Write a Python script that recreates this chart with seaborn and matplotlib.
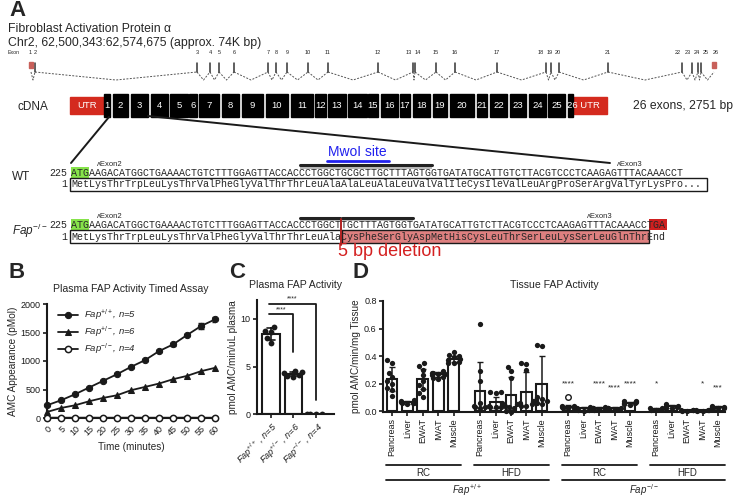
import numpy as np
import pandas as pd
import matplotlib
matplotlib.use('Agg')
import matplotlib.pyplot as plt
import seaborn as sns
from matplotlib.patches import Rectangle

sns.set_theme(style='ticks')
plt.rcParams['font.family'] = ['Liberation Sans', 'DejaVu Sans']
plt.rcParams['mathtext.fontset'] = 'custom'
plt.rcParams['mathtext.rm'] = 'Liberation Sans'
plt.rcParams['mathtext.it'] = 'Liberation Sans:italic'
plt.rcParams['mathtext.bf'] = 'Liberation Sans:bold'

# ---------------- data ----------------
exon_nums = list(range(1, 27))
exon_x = [31, 35, 197, 210, 219, 234, 268, 276, 287, 308, 328, 378, 413, 415,
          436, 455, 497, 546, 551, 559, 608, 682, 692, 698, 701, 714]
exon_label_x = [30, 35, 197, 210, 219, 234, 268, 276, 287, 308, 328, 378, 409, 418,
                436, 455, 497, 541, 550, 558, 608, 678, 688, 697, 706, 716]
cdna_left = [104, 113, 131, 151, 170, 189, 199, 222, 242, 266, 291, 315, 328, 348,
             368, 381, 400, 413, 433, 450, 477, 490, 510, 529, 548, 568]
cdna_right = [110, 128, 148, 168, 188, 197, 219, 239, 263, 288, 313, 326, 346, 367,
              378, 398, 410, 430, 447, 474, 487, 507, 526, 546, 565, 573]

wt_dna = "ATGAAGACATGGCTGAAAACTGTCTTTGGAGTTACCACCCTGGCTGCGCTTGCTTTAGTGGTGATATGCATTGTCTTACGTCCCTCAAGAGTTTACAAACCT"
wt_prot = "MetLysThrTrpLeuLysThrValPheGlyValThrThrLeuAlaAlaLeuAlaLeuValValIleCysIleValLeuArgProSerArgValTyrLysPro..."
ko_dna = "ATGAAGACATGGCTGAAAACTGTCTTTGGAGTTACCACCCTGGCTTGCTTTAGTGGTGATATGCATTGTCTTACGTCCCTCAAGAGTTTACAAACCTGA"
ko_prot = "MetLysThrTrpLeuLysThrValPheGlyValThrThrLeuAlaCysPheSerGlyAspMetHisCysLeuThrSerLeuLysSerLeuGlnThrEnd"

# Panel B
time_min = [0, 5, 10, 15, 20, 25, 30, 35, 40, 45, 50, 55, 60]
amc_wt = [223, 311, 416, 534, 651, 768, 897, 1015, 1173, 1290, 1455, 1613, 1730]
amc_wt_sd = [12, 12, 12, 14, 14, 15, 15, 18, 18, 20, 25, 45, 45]
amc_het = [106, 176, 223, 293, 352, 399, 487, 545, 604, 680, 739, 821, 880]
amc_ko = [6, 5, 5, 6, 5, 5, 6, 5, 5, 5, 6, 5, 5]
legend_b = [r'$Fap^{+/+}$, n=5', r'$Fap^{+/-}$, n=6', r'$Fap^{-/-}$, n=4']

# Panel C
c_labels = [r'$Fap^{+/+}$ , n=5', r'$Fap^{+/-}$ , n=6', r'$Fap^{-/-}$ , n=4']
c_wt = [9.15, 8.75, 8.6, 8.0, 7.5]
c_het = [4.5, 4.4, 4.3, 4.1, 4.0, 3.9]
c_ko = [0.05, 0.02, 0.0, 0.03]

# Panel D
tissues = ['Pancreas', 'Liver', 'EWAT', 'IWAT', 'Muscle']
d_means = [0.232, 0.064, 0.232, 0.266, 0.378,
           0.147, 0.063, 0.116, 0.135, 0.193,
           0.031, 0.020, 0.022, 0.020, 0.056,
           0.016, 0.035, 0.006, 0.006, 0.028]
d_sd = [0.088, 0.010, 0.075, 0.020, 0.025,
        0.210, 0.040, 0.130, 0.150, 0.205,
        0.012, 0.010, 0.008, 0.006, 0.010,
        0.006, 0.012, 0.004, 0.004, 0.006]
d_points = [
    [0.37, 0.35, 0.28, 0.25, 0.22, 0.20, 0.17, 0.15, 0.11],
    [0.08, 0.075, 0.07, 0.065, 0.06, 0.06, 0.055, 0.05],
    [0.35, 0.33, 0.30, 0.26, 0.22, 0.19, 0.16, 0.13, 0.10],
    [0.29, 0.28, 0.28, 0.27, 0.27, 0.26, 0.25, 0.24, 0.23],
    [0.43, 0.41, 0.40, 0.39, 0.38, 0.37, 0.36, 0.35, 0.35],
    [0.63, 0.29, 0.22, 0.06, 0.04, 0.03, 0.03, 0.02],
    [0.14, 0.135, 0.13, 0.06, 0.04, 0.03, 0.03, 0.03],
    [0.32, 0.29, 0.24, 0.05, 0.04, 0.03, 0.02, 0.0, -0.01],
    [0.35, 0.34, 0.30, 0.07, 0.06, 0.05, 0.04, 0.04],
    [0.48, 0.47, 0.10, 0.09, 0.08, 0.07, 0.06, 0.05],
    [0.035, 0.03, 0.03, 0.025, 0.02, 0.02, 0.035],
    [0.03, 0.025, 0.02, 0.015, 0.01, 0.005, 0.0],
    [0.03, 0.025, 0.02, 0.02, 0.015, 0.01, 0.01],
    [0.025, 0.02, 0.02, 0.015, 0.015, 0.01],
    [0.075, 0.07, 0.065, 0.06, 0.055, 0.05, 0.045],
    [0.025, 0.02, 0.015, 0.01, 0.01],
    [0.05, 0.04, 0.035, 0.03, 0.025, 0.02],
    [0.01, 0.008, 0.005, 0.003, 0.0],
    [0.01, 0.008, 0.005, 0.003, 0.0],
    [0.035, 0.03, 0.03, 0.025, 0.02, 0.02],
]
d_outlier_idx = 10
d_outlier_val = 0.10
d_stars = ['', '', '', '', '', '', '', '', '', '',
           '****', '', '****', '****', '****',
           '*', '', '', '*', '***']
d_star_y = [0, 0, 0, 0, 0, 0, 0, 0, 0, 0,
            0.195, 0, 0.195, 0.165, 0.195,
            0.195, 0, 0, 0.195, 0.165]
diet_labels = ['RC', 'HFD', 'RC', 'HFD']
geno_labels = [r'$Fap^{+/+}$', r'$Fap^{-/-}$']

# ---------------- figure ----------------
W, H = 743, 504
fig = plt.figure(figsize=(W / 100, H / 100), dpi=100)


def axrect(l, t, r, b):
    return [l / W, 1 - b / H, (r - l) / W, (b - t) / H]


axA = fig.add_axes([0, 0, 1, 1])
axA.set_xlim(0, W)
axA.set_ylim(H, 0)
axA.axis('off')

RED = '#d42a1e'
axA.text(9, 11, 'A', fontsize=16, fontweight='bold', va='center', ha='left')
axA.text(8, 29, 'Fibroblast Activation Protein \u03b1', fontsize=8.8, va='center')
axA.text(8, 43, 'Chr2, 62,500,343:62,574,675 (approx. 74K bp)', fontsize=8.8, va='center')
axA.text(8, 53, 'Exon', fontsize=3.8, va='center')

# gene structure
base_y, dip_y, top_y = 72, 80, 63
for i in range(len(exon_x) - 1):
    x1, x2 = exon_x[i], exon_x[i + 1]
    axA.plot([x1, (x1 + x2) / 2, x2], [base_y, dip_y, base_y], color='#555',
             lw=0.7, ls=(0, (2, 1.5)))
for n, x, lx in zip(exon_nums, exon_x, exon_label_x):
    if n in (1, 26):
        axA.add_patch(Rectangle((x - 1.8, 61.5), 3.6, 6.5, color='#c8605a', zorder=3))
    else:
        axA.plot([x, x], [top_y, base_y], color='#333', lw=1.1)
    axA.text(lx, 53, str(n), fontsize=4.0, ha='center', va='center', color='#222')

# cDNA
axA.text(17, 107, 'cDNA', fontsize=8.5, va='center')
axA.add_patch(Rectangle((70, 97), 34, 17, color=RED))
axA.text(87, 105.5, 'UTR', fontsize=6.8, color='white', ha='center', va='center')
for n, l, r in zip(exon_nums, cdna_left, cdna_right):
    axA.add_patch(Rectangle((l, 94), r - l, 23, color='black', zorder=2))
    if n < 26:
        axA.text((l + r) / 2, 105.5, str(n), fontsize=6.8, color='white',
                 ha='center', va='center', zorder=3)
axA.add_patch(Rectangle((573, 97), 34, 17, color=RED, zorder=1))
axA.text(567, 105.5, '26 UTR', fontsize=6.8, color='white', ha='left', va='center', zorder=3)
axA.text(633, 106, '26 exons, 2751 bp', fontsize=8.7, va='center')
axA.plot([109, 71], [117, 163], color='k', lw=1.4)
axA.plot([148, 610], [116, 163], color='k', lw=1.4)

# sequences
cw, sx = 6.02, 71
MONO = dict(family='Liberation Mono', fontsize=7.22, ha='left', va='baseline')


def hl(i0, n, y, color, h=11):
    axA.add_patch(Rectangle((sx + i0 * cw, y - 8.5), n * cw, h, color=color, zorder=1, lw=0))


def box(x0, x1, y, fc='white'):
    # y is the text baseline
    top, hgt = y - 9.5, 13
    axA.add_patch(Rectangle((x0 + 1.3, top + 1.3), x1 - x0, hgt, fc='#b0b0b0', ec='none', zorder=1))
    axA.add_patch(Rectangle((x0, top), x1 - x0, hgt, fc=fc, ec='k', lw=1.0, zorder=1.5))


# WT (baselines)
y_dna, y_pro = 175.5, 187
axA.text(12, 177, 'WT', fontsize=8.5, va='center')
axA.text(sx - 4, y_dna, '225', **{**MONO, 'ha': 'right'})
axA.text(sx - 4, y_pro, '1', **{**MONO, 'ha': 'right'})
hl(0, 3, y_dna, '#86e34a')
box(70, 707, y_pro)
axA.text(sx, y_dna, wt_dna, zorder=3, **MONO)
axA.text(sx, y_pro, wt_prot, zorder=3, **MONO)
axA.text(97, 164, '\u028cExon2', fontsize=5.5, va='center')
axA.text(617, 164, '\u028cExon3', fontsize=5.5, va='center')
axA.add_patch(Rectangle((sx + 38 * cw, 165), 22 * cw, 3.5, color='#bbbbbb', lw=0, zorder=1))
axA.plot([sx + 38 * cw, sx + 60 * cw], [165, 165], color='#222', lw=2.2)
axA.text(357, 152, 'MwoI site', fontsize=10, color='#2020ee', ha='center', va='center')
axA.plot([327, 389], [160.5, 160.5], color='#2020ee', lw=2)

# KO
y_dna2, y_pro2 = 227.5, 239.5
axA.text(12, 231, r'$Fap^{-/-}$', fontsize=8.5, va='center')
axA.text(sx - 4, y_dna2, '225', **{**MONO, 'ha': 'right'})
axA.text(sx - 4, y_pro2, '1', **{**MONO, 'ha': 'right'})
hl(0, 3, y_dna2, '#86e34a')
hl(96, 3, y_dna2, '#cf1f1f')
box(70, sx + 45 * cw, y_pro2)
box(sx + 45 * cw, sx + 96 * cw, y_pro2, fc='#de8080')
axA.text(sx, y_dna2, ko_dna, zorder=3, **MONO)
axA.text(sx, y_pro2, ko_prot, zorder=3, **MONO)
axA.text(97, 216, '\u028cExon2', fontsize=5.5, va='center')
axA.text(587, 216, '\u028cExon3', fontsize=5.5, va='center')
for a, b in [(38, 45), (45, 57)]:
    axA.add_patch(Rectangle((sx + a * cw, 217.5), (b - a) * cw - 1.5, 3, color='#bbbbbb', lw=0, zorder=1))
    axA.plot([sx + a * cw, sx + b * cw - 1.5], [217.5, 217.5], color='#222', lw=2.2)
axA.plot([sx + 45 * cw - 1, sx + 45 * cw - 1], [219, 245], color='#b02020', lw=1.4, zorder=4)
axA.text(338, 252, '5 bp deletion', fontsize=13, color='#d42020', va='center', ha='left')

# panel letters
for lab, x in [('B', 9), ('C', 229), ('D', 352)]:
    axA.text(x, 273, lab, fontsize=16, fontweight='bold', va='center', ha='left')


def prism(ax):
    sns.despine(ax=ax)
    for s in ['left', 'bottom']:
        ax.spines[s].set_linewidth(1.5)
        ax.spines[s].set_color('k')
    ax.tick_params(width=1.2, length=3, labelsize=6.5, colors='k', pad=1.5)
    ax.set_facecolor('none')


# ---------------- Panel B ----------------
axB = fig.add_axes(axrect(47, 304, 215, 418))
sns.lineplot(x=time_min, y=amc_wt, ax=axB, color='k', marker='o', markersize=4.5,
             mec='k', lw=1.3, label=legend_b[0], clip_on=False)
sns.lineplot(x=time_min, y=amc_het, ax=axB, color='k', marker='^', markersize=4.5,
             mec='k', lw=1.3, label=legend_b[1], clip_on=False)
sns.lineplot(x=time_min, y=amc_ko, ax=axB, color='k', marker='o', markersize=4.5,
             mfc='white', mec='k', mew=1.1, lw=1.3, label=legend_b[2], clip_on=False, zorder=5)
axB.errorbar(time_min, amc_wt, yerr=amc_wt_sd, fmt='none', ecolor='k', capsize=2, lw=1)
axB.set_xlim(0, 60)
axB.set_ylim(0, 2000)
axB.set_xticks(time_min)
axB.set_yticks([0, 500, 1000, 1500, 2000])
prism(axB)
plt.setp(axB.get_xticklabels(), rotation=45, ha='right', va='top', rotation_mode='anchor')
axB.set_xlabel('Time (minutes)', fontsize=7.2, labelpad=3)
axB.set_ylabel('AMC Appearance (pMol)', fontsize=7.2, labelpad=2)
axB.set_title('Plasma FAP Activity Timed Assay', fontsize=7.6, pad=9)
leg = axB.legend(loc='upper left', bbox_to_anchor=(0.03, 1.02), frameon=False, fontsize=6.8,
                 handlelength=2.2, labelspacing=0.25, borderaxespad=0.2, handletextpad=0.6)
for tx in leg.get_texts():
    tx.set_fontstyle('italic')

# ---------------- Panel C ----------------
axC = fig.add_axes(axrect(257, 300, 334, 414))
dfc = pd.DataFrame({
    'g': ['wt'] * len(c_wt) + ['het'] * len(c_het) + ['ko'] * len(c_ko),
    'v': c_wt + c_het + c_ko})
sns.barplot(data=dfc, x='g', y='v', ax=axC, errorbar='sd', capsize=0.35, color='white',
            edgecolor='k', linewidth=1.5, width=0.78, err_kws={'color': 'k', 'linewidth': 1.2})
sns.swarmplot(data=dfc, x='g', y='v', ax=axC, color='k', size=4.2, zorder=4)
axC.set_xlim(-0.62, 2.8)
axC.set_ylim(0, 12)
axC.set_yticks([0, 5, 10])
prism(axC)
axC.set_xticks([0, 1, 2])
axC.set_xticklabels(c_labels, rotation=45, ha='right', va='top', rotation_mode='anchor',
                    fontsize=6.5, style='italic')
axC.set_xlabel('')
axC.set_ylabel('pmol AMC/min/uL plasma', fontsize=7.2, labelpad=2)
axC.set_title('Plasma FAP Activity', fontsize=7.6, pad=9)
axC.plot([-0.1, 1, 1], [10.5, 10.5, 6.5], color='k', lw=1.3, clip_on=False)
axC.plot([-0.1, 2, 2], [11.6, 11.6, 1.5], color='k', lw=1.3, clip_on=False)
axC.text(0.45, 11.0, '****', fontsize=5, ha='center', va='center')
axC.text(0.95, 12.1, '****', fontsize=5, ha='center', va='center', clip_on=False)

# ---------------- Panel D ----------------
axD = fig.add_axes(axrect(383, 301, 725, 412))
pos = [i + g * 5.7 for g in range(4) for i in range(5)]
dfd = pd.DataFrame({'pos': pos, 'm': d_means})
sns.barplot(data=dfd, x='pos', y='m', ax=axD, native_scale=True, errorbar=None,
            color='white', edgecolor='k', linewidth=1.5, width=0.7)
axD.errorbar(pos, d_means, yerr=d_sd, fmt='none', ecolor='k', capsize=2.2, lw=1.1, zorder=3)
pts_x, pts_y = [], []
for p, vals in zip(pos, d_points):
    pts_x += [p] * len(vals)
    pts_y += vals
dfp = pd.DataFrame({'pos': pts_x, 'v': pts_y})
sns.swarmplot(data=dfp, x='pos', y='v', ax=axD, native_scale=True, color='k', size=3.8,
              zorder=4, clip_on=False)
axD.scatter([pos[d_outlier_idx]], [d_outlier_val], s=16, facecolor='white', edgecolor='k',
            lw=1.0, zorder=5)
for p, s, sy in zip(pos, d_stars, d_star_y):
    if s:
        axD.text(p, sy, s, fontsize=6, ha='center', va='center')
axD.set_xlim(-0.58, 21.55)
axD.set_ylim(-0.007, 0.8)
axD.set_yticks([0, 0.2, 0.4, 0.6, 0.8])
axD.set_yticklabels(['0.0', '0.2', '0.4', '0.6', '0.8'])
prism(axD)
axD.set_xticks(pos)
axD.set_xticklabels(tissues * 4, rotation=90, fontsize=6.5, ha='center', va='top')
axD.set_xlabel('')
axD.set_ylabel('pmol AMC/min/mg Tissue', fontsize=7.2, labelpad=2)
axD.set_title('Tissue FAP Activity', fontsize=7.6, pad=9)

tr = axD.get_xaxis_transform()
y_l1, y_t1, y_l2, y_t2 = -0.477, -0.55, -0.613, -0.70
for g in range(4):
    x0, x1 = pos[g * 5] - 0.4, pos[g * 5 + 4] + 0.45
    axD.plot([x0, x1], [y_l1, y_l1], transform=tr, color='k', lw=1.3, clip_on=False)
    axD.text((x0 + x1) / 2, y_t1, diet_labels[g], transform=tr, fontsize=7,
             ha='center', va='center')
for k in range(2):
    x0, x1 = pos[k * 10] - 0.4, pos[k * 10 + 9] + 0.45
    axD.plot([x0, x1], [y_l2, y_l2], transform=tr, color='k', lw=1.3, clip_on=False)
    axD.text((x0 + x1) / 2, y_t2, geno_labels[k], transform=tr, fontsize=7,
             ha='center', va='center')

fig.savefig('out.png', dpi=100)
